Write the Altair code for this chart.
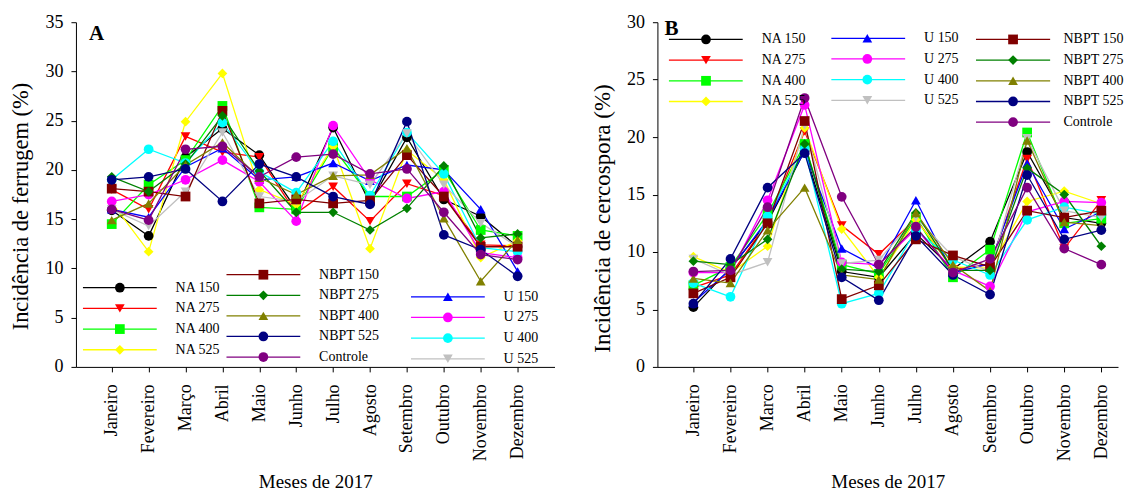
import altair as alt
import pandas as pd

# ---------------- data ----------------
months_a = ["Janeiro", "Fevereiro", "Março", "Abril", "Maio", "Junho", "Julho",
            "Agosto", "Setembro", "Outubro", "Novembro", "Dezembro"]
months_b = ["Janeiro", "Fevereiro", "Marco", "Abril", "Maio", "Junho", "Julho",
            "Agosto", "Setembro", "Outubro", "Novembro", "Dezembro"]

series = ["NA 150", "NA 275", "NA 400", "NA 525",
          "U 150", "U 275", "U 400", "U 525",
          "NBPT 150", "NBPT 275", "NBPT 400", "NBPT 525", "Controle"]
colors = ["#000000", "#ff0000", "#00ff00", "#ffff00",
          "#0000ff", "#ff00ff", "#00ffff", "#c0c0c0",
          "#800000", "#008000", "#808000", "#000080", "#800080"]
shapes = ["circle", "triangle-down", "square", "diamond",
          "triangle-up", "circle", "circle", "triangle-down",
          "square", "diamond", "triangle-up", "circle", "circle"]

# Panel A: Incidência de ferrugem (%)
fer_na150 = [15.9, 13.3, 21.3, 24.2, 21.5, 16.0, 24.3, 16.6, 23.3, 17.0, 15.3, 12.2]
fer_na275 = [18.0, 16.0, 23.4, 21.8, 21.3, 15.6, 18.3, 14.8, 18.6, 17.4, 12.4, 12.3]
fer_na400 = [14.5, 18.5, 21.0, 26.5, 16.2, 16.0, 22.3, 17.3, 17.3, 20.0, 13.9, 13.3]
fer_na525 = [16.7, 11.7, 24.9, 29.8, 18.0, 16.5, 22.4, 12.0, 22.0, 19.0, 11.1, 12.8]
fer_u150 = [16.0, 15.2, 20.3, 22.2, 19.0, 19.3, 20.7, 18.9, 20.5, 20.0, 16.0, 9.7]
fer_u275 = [16.8, 17.5, 19.0, 21.0, 18.8, 14.8, 24.5, 19.0, 17.1, 17.8, 11.6, 11.1]
fer_u400 = [19.0, 22.1, 20.7, 24.8, 19.8, 17.7, 22.9, 17.4, 23.8, 19.6, 12.1, 11.7]
fer_u525 = [16.0, 14.3, 17.8, 23.8, 17.3, 16.8, 19.4, 18.5, 23.7, 18.5, 14.6, 12.2]
fer_nbpt150 = [18.1, 17.8, 17.3, 26.0, 16.6, 17.0, 16.6, 16.9, 21.5, 17.3, 12.2, 12.2]
fer_nbpt275 = [19.3, 17.8, 20.6, 25.5, 19.9, 15.7, 15.7, 13.9, 16.1, 20.4, 13.1, 13.5]
fer_nbpt400 = [14.9, 16.6, 20.5, 22.8, 19.2, 17.5, 19.4, 19.5, 22.2, 15.1, 8.7, 12.9]
fer_nbpt525 = [19.0, 19.3, 20.1, 16.8, 20.6, 19.3, 17.3, 16.5, 24.9, 13.4, 11.9, 9.2]
fer_controle = [16.0, 14.9, 22.1, 22.4, 19.3, 21.3, 21.6, 19.6, 20.1, 15.7, 11.4, 10.9]

# Panel B: Incidência de cercospora (%)
cer_na150 = [5.2, 8.6, 12.6, 18.8, 8.3, 7.8, 11.6, 8.5, 10.9, 18.7, 13.0, 12.5]
cer_na275 = [6.9, 8.0, 12.6, 20.5, 12.3, 9.8, 12.9, 8.5, 8.9, 18.1, 10.3, 14.5]
cer_na400 = [7.1, 8.7, 13.3, 19.4, 8.9, 8.1, 13.0, 7.8, 10.2, 20.4, 12.5, 12.9]
cer_na525 = [9.6, 8.2, 10.5, 20.8, 12.0, 7.8, 12.8, 8.7, 8.6, 14.4, 15.3, 14.2]
cer_u150 = [5.6, 8.5, 12.8, 18.8, 10.3, 8.6, 14.5, 8.2, 9.0, 17.7, 12.0, 13.5]
cer_u275 = [8.2, 8.2, 14.5, 22.8, 9.1, 8.9, 12.0, 8.4, 7.0, 13.5, 14.4, 14.3]
cer_u400 = [7.3, 6.1, 13.1, 19.0, 5.5, 6.4, 11.9, 9.3, 8.0, 12.8, 13.9, 13.3]
cer_u525 = [9.4, 8.0, 9.1, 21.0, 9.0, 9.3, 13.0, 9.6, 8.3, 19.9, 13.6, 13.0]
cer_nbpt150 = [6.4, 7.8, 12.5, 21.4, 5.9, 7.1, 11.1, 9.7, 8.7, 13.6, 13.0, 13.6]
cer_nbpt275 = [9.2, 8.9, 11.1, 19.4, 8.5, 8.3, 13.4, 8.4, 8.4, 17.3, 15.0, 10.5]
cer_nbpt400 = [7.7, 7.3, 11.9, 15.6, 8.0, 7.6, 13.4, 8.9, 6.6, 19.7, 12.6, 12.3]
cer_nbpt525 = [5.5, 9.4, 15.6, 18.6, 7.8, 5.8, 11.4, 8.0, 6.3, 16.7, 11.1, 11.9]
cer_controle = [8.3, 8.4, 13.9, 23.4, 14.8, 8.9, 12.2, 8.2, 9.4, 15.6, 10.3, 8.9]

fer_values = [fer_na150, fer_na275, fer_na400, fer_na525, fer_u150, fer_u275, fer_u400,
              fer_u525, fer_nbpt150, fer_nbpt275, fer_nbpt400, fer_nbpt525, fer_controle]
cer_values = [cer_na150, cer_na275, cer_na400, cer_na525, cer_u150, cer_u275, cer_u400,
              cer_u525, cer_nbpt150, cer_nbpt275, cer_nbpt400, cer_nbpt525, cer_controle]

# legend groups (columns) for each panel
legend_cols_a = [["NA 150", "NA 275", "NA 400", "NA 525"],
                 ["NBPT 150", "NBPT 275", "NBPT 400", "NBPT 525", "Controle"],
                 ["U 150", "U 275", "U 400", "U 525"]]
legend_cols_b = [["NA 150", "NA 275", "NA 400", "NA 525"],
                 ["U 150", "U 275", "U 400", "U 525"],
                 ["NBPT 150", "NBPT 275", "NBPT 400", "NBPT 525", "Controle"]]


def long_df(values):
    rows = []
    for k, (s, vals) in enumerate(zip(series, values)):
        for m, v in enumerate(vals):
            rows.append({"s": s, "m": m, "v": v, "o": k})
    return pd.DataFrame(rows)


def legend_df(cols, col_geom, row_geom):
    # col_geom: (line start, line end, marker, text) in month units
    # row_geom: per column (first row value, row step) in value units
    rows = []
    for c, names in enumerate(cols):
        x1, x2, xm, xt = col_geom[c]
        y0, dy = row_geom[c]
        for r, s in enumerate(names):
            rows.append({"s": s, "x1": x1, "x2": x2, "xm": xm, "xt": xt,
                         "ly": y0 - r * dy})
    return pd.DataFrame(rows)


FONT = "Liberation Serif"
color = alt.Color("s:N", scale=alt.Scale(domain=series, range=colors), legend=None)
shape = alt.Shape("s:N", scale=alt.Scale(domain=series, range=shapes), legend=None)


def panel(values, months, ymax, xdom, w, h, leg, letter, letter_xy, ytitle,
          ylab_fs, ytitle_fs, ytitle_y, xlab_fs, xtitle_fs):
    df = long_df(values)
    label_expr = "[" + ",".join("'%s'" % m for m in months) + "][datum.value]"
    xaxis = alt.Axis(values=list(range(12)), labelExpr=label_expr, labelAngle=270,
                     title="Meses de 2017", grid=False, tickSize=5, labelPadding=12,
                     labelFont=FONT, titleFont=FONT, titleFontWeight="normal",
                     labelFontSize=xlab_fs, titleFontSize=xtitle_fs, titlePadding=12,
                     domainColor="black", tickColor="black", labelColor="black",
                     titleColor="black")
    yaxis = alt.Axis(values=list(range(0, ymax + 1, 5)), title=ytitle, grid=False,
                     tickSize=5, labelPadding=8, labelFontSize=ylab_fs,
                     labelFont=FONT, titleFont=FONT, titleFontWeight="normal",
                     titleFontSize=ytitle_fs, titlePadding=12, titleY=ytitle_y,
                     domainColor="black", tickColor="black", labelColor="black",
                     titleColor="black")
    xs = alt.Scale(domain=xdom, nice=False, zero=False)
    ys = alt.Scale(domain=[0, ymax], nice=False)

    def X(f):
        return alt.X(f, scale=xs, axis=xaxis)

    def Y(f):
        return alt.Y(f, scale=ys, axis=yaxis)

    lines = alt.Chart(df).mark_line(strokeWidth=1.3).encode(
        x=X("m:Q"), y=Y("v:Q"), color=color, order="m:Q")
    pts = alt.Chart(df).mark_point(filled=True, size=95, opacity=1).encode(
        x=X("m:Q"), y=Y("v:Q"), color=color, shape=shape, order="o:Q")
    lrule = alt.Chart(leg).mark_rule(strokeWidth=1.3).encode(
        x=X("x1:Q"), x2="x2:Q", y=Y("ly:Q"), color=color)
    lpt = alt.Chart(leg).mark_point(filled=True, size=95, opacity=1).encode(
        x=X("xm:Q"), y=Y("ly:Q"), color=color, shape=shape)
    ltext = alt.Chart(leg).mark_text(align="left", baseline="middle", font=FONT,
                                     fontSize=14).encode(
        x=X("xt:Q"), y=Y("ly:Q"), text="s:N")
    ltr = alt.Chart(pd.DataFrame({"t": [letter]})).mark_text(
        align="left", baseline="alphabetic", font=FONT, fontSize=21,
        fontWeight="bold").encode(x=alt.value(letter_xy[0]), y=alt.value(letter_xy[1]),
                                  text="t:N")
    return alt.layer(lines, pts, lrule, lpt, ltext, ltr).properties(width=w, height=h)


leg_a = legend_df(legend_cols_a,
                  [(-0.78, 1.22, 0.22, 1.73), (3.11, 5.11, 4.11, 5.62),
                   (8.11, 10.11, 9.11, 10.62)],
                  [(8.04, 2.1), (9.36, 2.09), (7.12, 2.1)])
leg_b = legend_df(legend_cols_b,
                  [(-0.66, 1.33, 0.34, 1.84), (3.72, 5.71, 4.69, 6.22),
                   (7.62, 9.62, 8.62, 9.98)],
                  [(28.5, 1.8), (28.6, 1.8), (28.5, 1.8)])

pa = panel(fer_values, months_a, 35, [-0.97, 12.0], 479, 345, leg_a, "A", (13, 18),
           "Incidência de ferrugem (%)", 18, 22.5, 184, 18, 19)
pb = panel(cer_values, months_b, 30, [-0.97, 11.45], 461, 345, leg_b, "B", (7, 13),
           "Incidência de cercospora (%)", 18, 23, 196, 18, 19)

chart = alt.hconcat(pa, pb, spacing=37).properties(
    padding={"left": 2, "top": 5, "right": 0, "bottom": 0}
).configure_view(stroke=None)

chart.save("out.html", embed_options={"renderer": "svg", "actions": False})
